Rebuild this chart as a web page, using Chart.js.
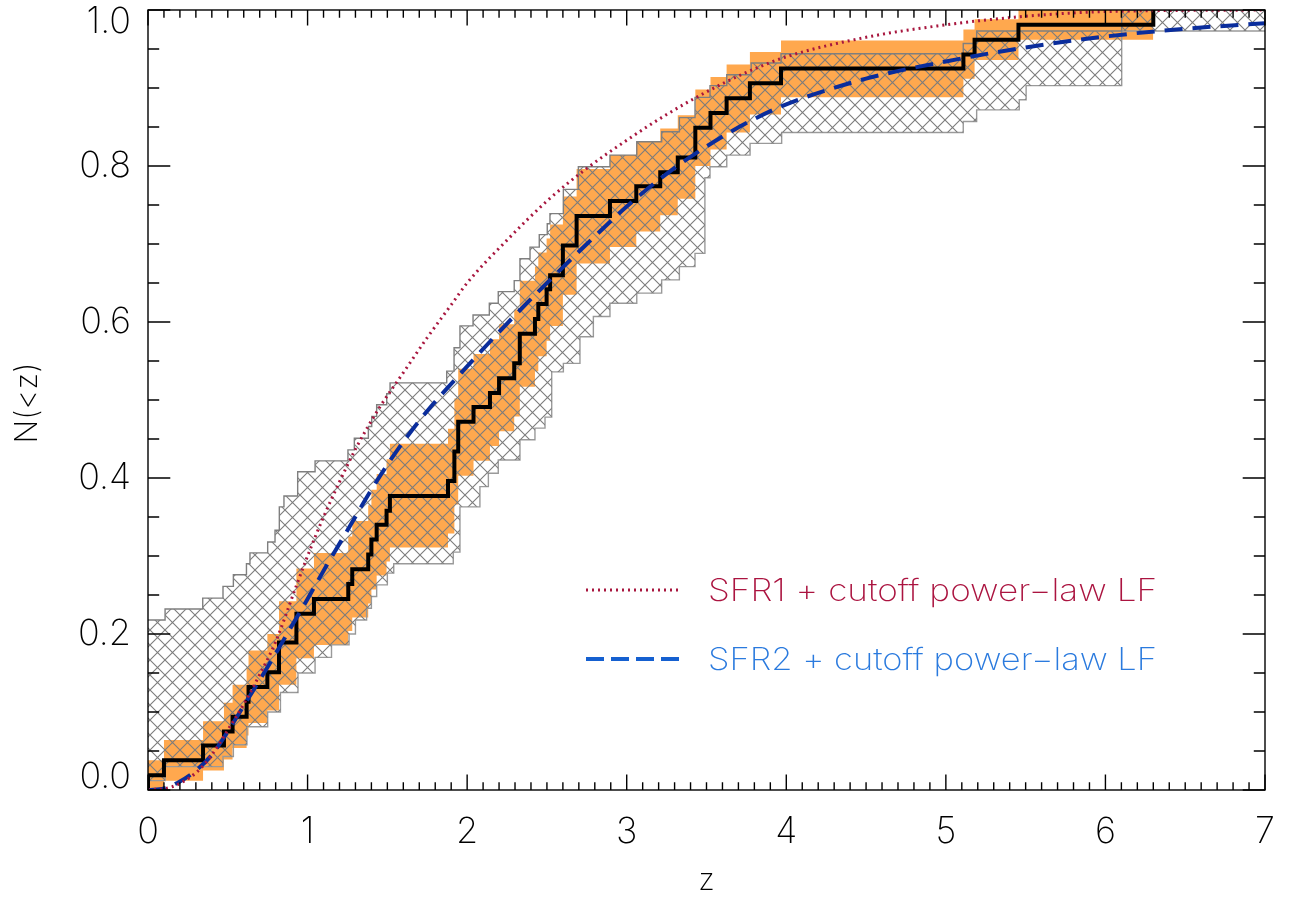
<!DOCTYPE html>
<html>
<head>
<meta charset="utf-8">
<script src="https://cdn.jsdelivr.net/npm/chart.js@4.4.1/dist/chart.umd.min.js"></script>
<style>
  html, body { margin:0; padding:0; background:#fff; }
  canvas { display:block; }
</style>
</head>
<body>
<canvas id="c" width="1292" height="898"></canvas>
<script>
// cumulative redshift distribution N(<z), 53 bursts
const blackZ = [0, 0, 0.10, 0.345, 0.476, 0.53, 0.618, 0.63, 0.748, 0.821, 0.93, 1.04, 1.255, 1.28, 1.38, 1.40, 1.433, 1.495, 1.516, 1.88, 1.92, 1.944, 2.04, 2.143, 2.20, 2.295, 2.33, 2.425, 2.446, 2.498, 2.52, 2.60, 2.686, 2.895, 3.06, 3.21, 3.32, 3.43, 3.525, 3.626, 3.772, 3.967, 5.11, 5.18, 5.455, 6.30];
const blackN = [0, 0.019, 0.038, 0.057, 0.075, 0.094, 0.113, 0.132, 0.151, 0.189, 0.226, 0.245, 0.264, 0.283, 0.302, 0.321, 0.340, 0.358, 0.377, 0.396, 0.434, 0.472, 0.491, 0.509, 0.528, 0.547, 0.585, 0.604, 0.623, 0.642, 0.660, 0.698, 0.736, 0.755, 0.774, 0.792, 0.811, 0.849, 0.868, 0.887, 0.906, 0.925, 0.943, 0.962, 0.981, 1.0];

// orange band (upper / lower edge, same step positions)
const orangeZ  = [0, 0.10, 0.345, 0.476, 0.53, 0.618, 0.63, 0.748, 0.821, 0.93, 1.04, 1.255, 1.28, 1.38, 1.40, 1.433, 1.495, 1.516, 1.88, 1.92, 1.944, 2.04, 2.143, 2.20, 2.295, 2.33, 2.425, 2.446, 2.498, 2.52, 2.60, 2.686, 2.895, 3.06, 3.21, 3.32, 3.43, 3.525, 3.626, 3.772, 3.967, 5.11, 5.18, 5.455, 6.30];
const orangeUp = [0.038, 0.064, 0.088, 0.112, 0.135, 0.157, 0.179, 0.200, 0.242, 0.284, 0.304, 0.325, 0.345, 0.365, 0.385, 0.405, 0.424, 0.444, 0.463, 0.502, 0.540, 0.559, 0.578, 0.597, 0.616, 0.653, 0.671, 0.689, 0.707, 0.725, 0.761, 0.796, 0.814, 0.831, 0.848, 0.865, 0.898, 0.914, 0.930, 0.946, 0.961, 0.975, 0.988, 1.0, 1.0];
const orangeLo = [0.0, 0.012, 0.025, 0.039, 0.054, 0.070, 0.086, 0.102, 0.135, 0.169, 0.186, 0.204, 0.221, 0.239, 0.257, 0.275, 0.293, 0.311, 0.329, 0.366, 0.403, 0.422, 0.441, 0.460, 0.479, 0.517, 0.537, 0.556, 0.576, 0.595, 0.635, 0.675, 0.696, 0.716, 0.737, 0.758, 0.800, 0.821, 0.843, 0.866, 0.888, 0.912, 0.936, 0.962, 0.962];

// hatched grey band
const grayUpZ = [0, 0.107, 0.343, 0.47, 0.535, 0.617, 0.639, 0.750, 0.796, 0.823, 0.852, 0.938, 1.047, 1.253, 1.293, 1.381, 1.402, 1.433, 1.496, 1.517, 1.872, 1.918, 1.955, 2.037, 2.139, 2.195, 2.295, 2.331, 2.394, 2.452, 2.502, 2.519, 2.603, 2.697, 2.895, 3.063, 3.219, 3.33, 3.428, 3.522, 3.627, 3.78, 3.967, 5.109, 5.193, 6.102, 7.0];
const grayUp  = [0.218, 0.232, 0.246, 0.261, 0.276, 0.290, 0.304, 0.318, 0.333, 0.363, 0.377, 0.408, 0.422, 0.436, 0.451, 0.466, 0.479, 0.494, 0.508, 0.522, 0.537, 0.567, 0.595, 0.609, 0.624, 0.639, 0.653, 0.681, 0.696, 0.712, 0.726, 0.739, 0.770, 0.799, 0.814, 0.831, 0.844, 0.862, 0.888, 0.903, 0.917, 0.932, 0.944, 0.957, 0.973, 1.0, 1.0];
const grayLoZ = [0, 0.107, 0.47, 0.535, 0.62, 0.75, 0.83, 0.94, 1.047, 1.15, 1.26, 1.30, 1.37, 1.40, 1.433, 1.50, 1.54, 1.872, 1.913, 1.955, 2.08, 2.133, 2.195, 2.331, 2.425, 2.488, 2.53, 2.603, 2.707, 2.791, 2.895, 3.063, 3.219, 3.33, 3.428, 3.49, 3.522, 3.627, 3.773, 3.971, 5.109, 5.193, 5.46, 5.503, 6.102, 7.0];
const grayLo  = [0.012, 0.030, 0.043, 0.058, 0.081, 0.100, 0.125, 0.150, 0.170, 0.186, 0.200, 0.218, 0.233, 0.248, 0.263, 0.278, 0.290, 0.290, 0.305, 0.363, 0.389, 0.406, 0.423, 0.449, 0.464, 0.478, 0.536, 0.547, 0.581, 0.607, 0.624, 0.637, 0.654, 0.671, 0.688, 0.785, 0.799, 0.814, 0.829, 0.843, 0.857, 0.872, 0.885, 0.903, 0.973, 0.973];

// model curves
const sfr1Z = [0, 0.15, 0.3, 0.4, 0.5, 0.6, 0.7, 0.8, 0.93, 1.0, 1.1, 1.2, 1.3, 1.45, 1.6, 1.75, 1.9, 2.0, 2.25, 2.5, 2.75, 3.0, 3.25, 3.5, 3.75, 4.0, 4.5, 5.0, 5.5, 6.0, 7.0];
const sfr1N = [0, 0.004, 0.022, 0.045, 0.077, 0.11, 0.148, 0.19, 0.262, 0.30, 0.35, 0.395, 0.437, 0.49, 0.535, 0.58, 0.622, 0.65, 0.705, 0.755, 0.797, 0.833, 0.866, 0.895, 0.92, 0.94, 0.965, 0.981, 0.992, 0.998, 1.0];
const sfr2Z = [0, 0.1, 0.2, 0.3, 0.4, 0.5, 0.6, 0.7, 0.8, 0.9, 1.0, 1.12, 1.25, 1.4, 1.5, 1.62, 1.75, 2.0, 2.25, 2.5, 2.75, 3.0, 3.25, 3.5, 3.75, 4.0, 4.5, 5.0, 5.5, 6.0, 6.5, 7.0];
const sfr2N = [0, 0.002, 0.011, 0.025, 0.045, 0.075, 0.108, 0.141, 0.175, 0.21, 0.245, 0.288, 0.333, 0.385, 0.417, 0.452, 0.486, 0.543, 0.598, 0.65, 0.70, 0.748, 0.79, 0.825, 0.855, 0.879, 0.912, 0.934, 0.952, 0.966, 0.976, 0.983];

const yTicks = [0, 0.2, 0.4, 0.6, 0.8, 1.0];
const yTickLabels = ['0.0', '0.2', '0.4', '0.6', '0.8', '1.0'];
const legendItems = [
  {text:'SFR1 + cutoff power\u2212law LF', color:'#ab1440', line:'#a8163e', dash:[2,4], width:3, y:590},
  {text:'SFR2 + cutoff power\u2212law LF', color:'#2a7ade', line:'#1560d0', dash:[18,7], width:4, y:659}
];

const FONT = 'Inter, "DejaVu Sans", sans-serif';
const W = '200';
const pts = (xs, ys) => xs.map((x,i) => ({x, y:ys[i]}));

const canvas = document.getElementById('c');
const ctx0 = canvas.getContext('2d');

function hatch(){
  const c = document.createElement('canvas');
  c.width = c.height = 15;
  const g = c.getContext('2d');
  g.strokeStyle = '#7c7c7c';
  g.lineWidth = 1.1;
  g.beginPath();
  g.moveTo(-1,-1); g.lineTo(16,16);
  g.moveTo(16,-1); g.lineTo(-1,16);
  g.stroke();
  return ctx0.createPattern(c, 'repeat');
}

const frame = {
  id:'frame',
  afterDatasetsDraw(chart){
    const {ctx, chartArea:a, scales:{x, y}} = chart;
    ctx.save();
    ctx.strokeStyle = '#000';
    ctx.lineWidth = 1.4;
    ctx.strokeRect(a.left, a.top, a.right-a.left, a.bottom-a.top);
    ctx.beginPath();
    for (let i=0; i<=70; i++){
      const px = x.getPixelForValue(i/10);
      const len = i%10===0 ? 15.6 : 7.8;
      ctx.moveTo(px, a.bottom); ctx.lineTo(px, a.bottom-len);
      ctx.moveTo(px, a.top); ctx.lineTo(px, a.top+len);
    }
    for (let i=0; i<=20; i++){
      const py = y.getPixelForValue(i/20);
      const len = i%4===0 ? 22.3 : 11.2;
      ctx.moveTo(a.left, py); ctx.lineTo(a.left+len, py);
      ctx.moveTo(a.right, py); ctx.lineTo(a.right-len, py);
    }
    ctx.stroke();

    // y tick labels, edge labels pulled inside like IDL does
    ctx.fillStyle = '#000';
    ctx.font = `${W} 36px ${FONT}`;
    ctx.textAlign = 'right';
    ctx.textBaseline = 'middle';
    yTicks.forEach((v,i) => {
      const py = Math.min(Math.max(y.getPixelForValue(v), a.top+12), a.bottom-13);
      ctx.fillText(yTickLabels[i], 131, py);
    });

    // axis titles
    ctx.font = `${W} 31px ${FONT}`;
    ctx.textAlign = 'center';
    ctx.fillText('z', (a.left+a.right)/2, 881);
    ctx.save();
    ctx.translate(28, 403);
    ctx.rotate(-Math.PI/2);
    ctx.fillText('N(<z)', 0, 0);
    ctx.restore();

    // legend
    legendItems.forEach(it => {
      ctx.save();
      ctx.strokeStyle = it.line;
      ctx.lineWidth = it.width;
      ctx.setLineDash(it.dash);
      ctx.beginPath();
      ctx.moveTo(586, it.y); ctx.lineTo(681, it.y);
      ctx.stroke();
      ctx.restore();
      ctx.save();
      ctx.font = `${W} 31px ${FONT}`;
      ctx.fillStyle = it.color;
      ctx.textAlign = 'left';
      ctx.textBaseline = 'alphabetic';
      const w = ctx.measureText(it.text).width;
      ctx.translate(708, it.y + 11);
      ctx.scale(449 / w, 1);
      ctx.fillText(it.text, 0, 0);
      ctx.restore();
    });
    ctx.restore();
  }
};

// stepped:'before' keeps each value until the next z, then jumps
const chart = new Chart(canvas, {
  type:'line',
  data:{
    datasets:[
      {label:'SFR1', data:pts(sfr1Z, sfr1N), borderColor:'#a8163e', borderWidth:3, borderDash:[2,4], pointRadius:0, cubicInterpolationMode:'monotone', fill:false, order:0},
      {label:'SFR2', data:pts(sfr2Z, sfr2N), borderColor:'#0a2d9c', borderWidth:4, borderDash:[18,10], pointRadius:0, cubicInterpolationMode:'monotone', fill:false, order:0},
      {label:'data', data:pts(blackZ, blackN), borderColor:'#000', borderWidth:4, stepped:'before', pointRadius:0, fill:false, order:1},
      {label:'grey up', data:pts(grayUpZ, grayUp), borderColor:'#7f7f7f', borderWidth:1.4, stepped:'before', pointRadius:0, backgroundColor:hatch(), fill:'+1', order:2},
      {label:'grey lo', data:pts(grayLoZ, grayLo), borderColor:'#9a9a9a', borderWidth:1.4, stepped:'before', pointRadius:0, fill:false, order:2},
      {label:'orange up', data:pts(orangeZ, orangeUp), borderColor:'rgba(0,0,0,0)', borderWidth:0, stepped:'before', pointRadius:0, backgroundColor:'#ffa84e', fill:'+1', order:3},
      {label:'orange lo', data:pts(orangeZ, orangeLo), borderColor:'rgba(0,0,0,0)', borderWidth:0, stepped:'before', pointRadius:0, fill:false, order:3}
    ]
  },
  options:{
    responsive:false,
    devicePixelRatio:1,
    animation:false,
    events:[],
    layout:{padding:{top:10, right:27, left:0, bottom:0}},
    plugins:{legend:{display:false}, tooltip:{enabled:false}},
    scales:{
      x:{
        type:'linear', min:0, max:7,
        grid:{display:false, drawTicks:false},
        border:{display:false},
        ticks:{stepSize:1, color:'#000', padding:21, font:{family:FONT, size:36, weight:W}, maxRotation:0, autoSkip:false},
        afterFit(s){ s.height = 108; s.paddingLeft = 0; s.paddingRight = 0; }
      },
      y:{
        type:'linear', min:0, max:1,
        grid:{display:false, drawTicks:false},
        border:{display:false},
        ticks:{display:false},
        afterFit(s){ s.width = 148; s.paddingTop = 0; s.paddingBottom = 0; }
      }
    }
  },
  plugins:[frame]
});
</script>
</body>
</html>
